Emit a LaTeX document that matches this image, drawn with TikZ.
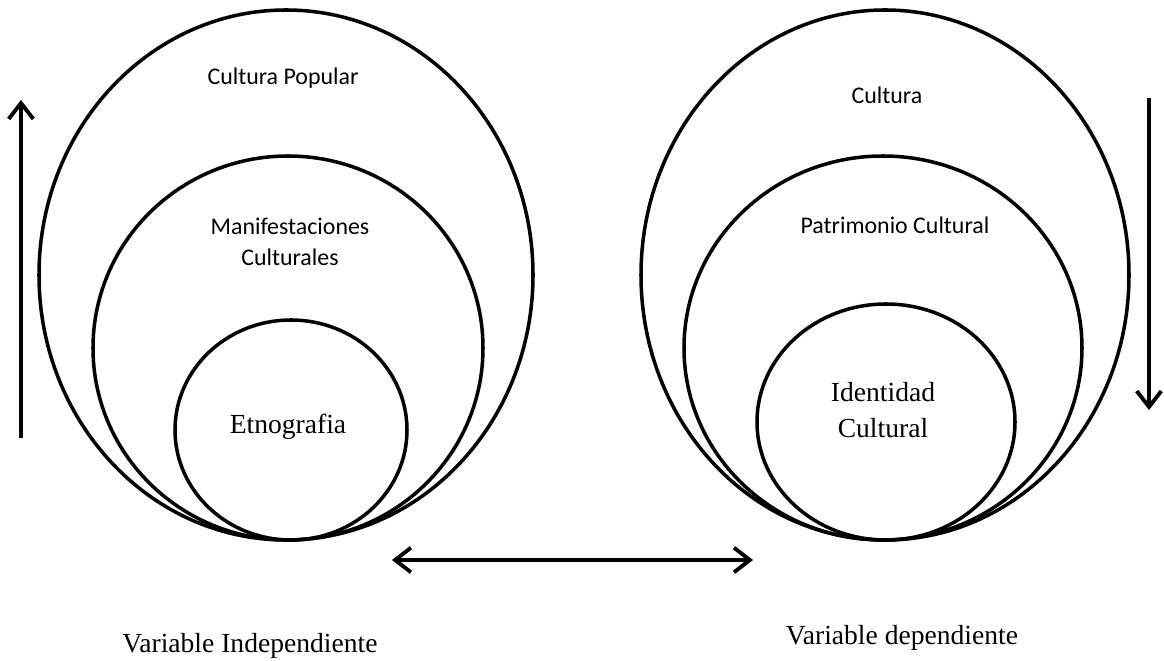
\documentclass[tikz,border=0pt]{standalone}
\usepackage{fontspec}
\setmainfont{Liberation Serif}
\newfontfamily\calfont{Carlito}
\usetikzlibrary{arrows.meta}

\tikzset{
	ring/.style={line width=2pt},
	flow/.style={line width=2.2pt,-{Straight Barb[length=9pt,width=14pt,line width=2.2pt]}},
	twoway/.style={line width=2.2pt,{Straight Barb[length=9pt,width=14pt,line width=2.2pt]}-{Straight Barb[length=9pt,width=14pt,line width=2.2pt]}},
	sanslabel/.style={font=\calfont\fontsize{13.6}{17.6}\selectfont,align=center},
	seriflabel/.style={font=\fontsize{15.7}{20}\selectfont,align=center}
}

\begin{document}
\begin{tikzpicture}
	\useasboundingbox (0,0) rectangle (23.28,13.22);

	% variable independiente
	\draw[ring] (5.72,7.72) ellipse (4.94 and 5.30);
	\draw[ring] (5.76,6.26) ellipse (3.90 and 3.84);
	\draw[ring] (5.82,4.62) ellipse (2.32 and 2.20);
	\node[sanslabel] (popular) at (5.66,11.66) {Cultura Popular};
	\node[sanslabel] (manif) at (5.80,8.38) {Manifestaciones\\Culturales};
	\node[seriflabel] (etno) at (5.76,4.68) {Etnografia};
	\node[seriflabel] (indep) at (5.00,0.30) {Variable Independiente};

	% variable dependiente
	\draw[ring] (17.70,7.72) ellipse (4.88 and 5.30);
	\draw[ring] (17.66,6.26) ellipse (3.98 and 3.84);
	\draw[ring] (17.72,4.78) ellipse (2.58 and 2.36);
	\node[sanslabel] (cultura) at (17.74,11.32) {Cultura};
	\node[sanslabel] (patri) at (17.90,8.72) {Patrimonio Cultural};
	\node[seriflabel] (ident) at (17.66,5.02) {Identidad\\Cultural};
	\node[seriflabel] (dep) at (18.04,0.46) {Variable dependiente};

	% flechas
	\coordinate (upA) at (0.42,4.46);
	\coordinate (upB) at (0.42,11.22);
	\coordinate (downA) at (22.98,11.26);
	\coordinate (downB) at (22.98,5.02);
	\coordinate (midL) at (7.84,2.02);
	\coordinate (midR) at (15.06,2.02);
	\draw[flow] (upA) -- (upB);
	\draw[flow] (downA) -- (downB);
	\draw[twoway] (midL) -- (midR);

\end{tikzpicture}
\end{document}
